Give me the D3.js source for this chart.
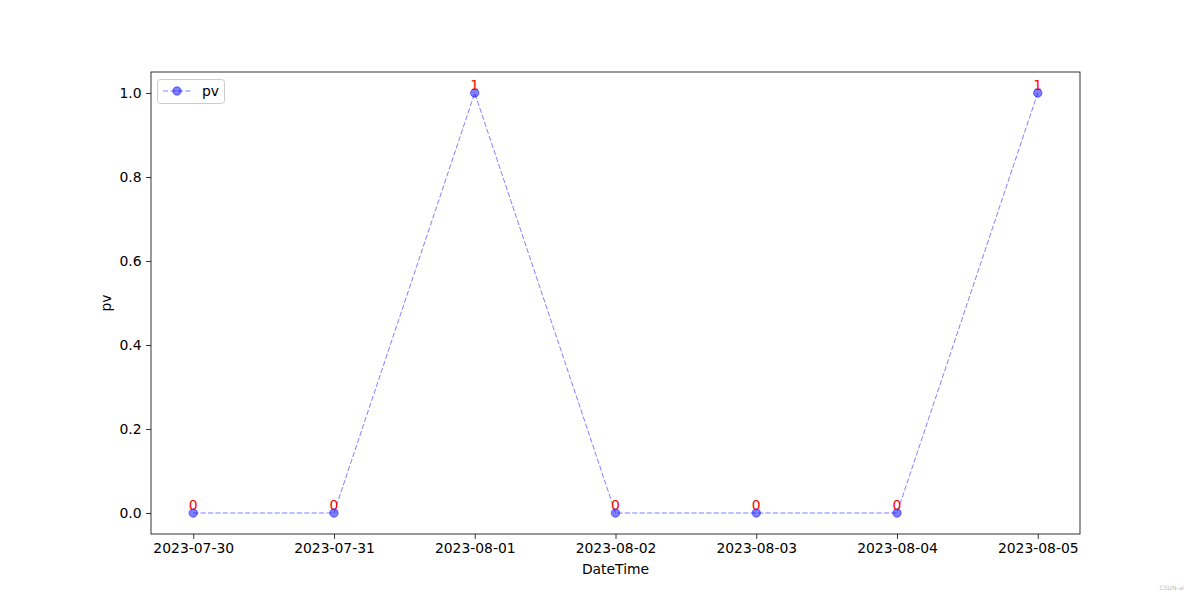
<!DOCTYPE html>
<html><head><meta charset="utf-8">
<script src="https://cdn.jsdelivr.net/npm/d3@7"></script>
<style>body{margin:0;background:#fff;} svg{display:block;font-family:"DejaVu Sans",sans-serif;}</style>
</head><body>
<svg id="chart" width="1200" height="600"></svg>
<script>
const dates = ["2023-07-30","2023-07-31","2023-08-01","2023-08-02","2023-08-03","2023-08-04","2023-08-05"];
const pv = [0,0,1,0,0,0,1];
const yTicks = [0,0.2,0.4,0.6,0.8,1.0];
const seriesName = "pv";

const svg = d3.select("#chart");
const L=151,R=1080,T=72,B=534;
const parse = d3.utcParse("%Y-%m-%d");
const ds = dates.map(parse);
const day = 86400000;
const x = d3.scaleUtc().domain([new Date(+ds[0]-0.3*day), new Date(+ds[ds.length-1]+0.3*day)]).range([L,R]);
const y = d3.scaleLinear().domain([-0.05,1.05]).range([B,T]);

// axes
const xa = svg.append("g").attr("transform",`translate(0,${B})`)
  .call(d3.axisBottom(x).tickValues(ds).tickFormat(d3.utcFormat("%Y-%m-%d")).tickSize(4.9).tickPadding(4.5));
const ya = svg.append("g").attr("transform",`translate(${L},0)`)
  .call(d3.axisLeft(y).tickValues(yTicks).tickFormat(d3.format(".1f")).tickSize(4.9).tickPadding(4.5));
[xa,ya].forEach(a=>{
  a.selectAll("text").attr("font-size","13.9px").attr("fill","#000").attr("font-family","DejaVu Sans");
  a.selectAll("line").attr("stroke","#000").attr("stroke-width",0.8);
  a.select(".domain").remove();
});
svg.append("rect").attr("x",L).attr("y",T).attr("width",R-L).attr("height",B-T)
  .attr("fill","none").attr("stroke","#000").attr("stroke-width",0.8);

// line
const line = d3.line().x((d,i)=>x(ds[i])).y(d=>y(d));
svg.append("path").datum(pv).attr("d",line).attr("fill","none")
  .attr("stroke","blue").attr("stroke-opacity",0.5).attr("stroke-width",1.0).attr("stroke-dasharray","5.2,2.2");
svg.selectAll("circle.pt").data(pv).enter().append("circle").attr("class","pt")
  .attr("cx",(d,i)=>x(ds[i])).attr("cy",d=>y(d)).attr("r",4.2)
  .attr("fill","blue").attr("fill-opacity",0.5).attr("stroke","blue").attr("stroke-opacity",0.5).attr("stroke-width",1);
svg.selectAll("text.lbl").data(pv).enter().append("text").attr("class","lbl")
  .attr("x",(d,i)=>x(ds[i])).attr("y",d=>y(d)-3).attr("text-anchor","middle")
  .attr("font-size","13.9px").attr("fill","red").text(d=>d);

// labels
svg.append("text").attr("x",(L+R)/2).attr("y",574).attr("text-anchor","middle").attr("font-size","13.9px").text("DateTime");
svg.append("text").attr("transform","translate(111,303) rotate(-90)").attr("text-anchor","middle").attr("font-size","13.9px").text("pv");

// legend
const lg = svg.append("g");
lg.append("rect").attr("x",157.5).attr("y",79.5).attr("width",67).attr("height",24).attr("rx",3)
  .attr("fill","#fff").attr("fill-opacity",0.8).attr("stroke","#ccc").attr("stroke-width",1);
lg.append("line").attr("x1",163).attr("x2",191).attr("y1",91).attr("y2",91)
  .attr("stroke","blue").attr("stroke-opacity",0.5).attr("stroke-dasharray","5.2,2.2");
lg.append("circle").attr("cx",177).attr("cy",91).attr("r",4.2).attr("fill","blue").attr("fill-opacity",0.5)
  .attr("stroke","blue").attr("stroke-opacity",0.5);
lg.append("text").attr("x",202).attr("y",96).attr("font-size","13.9px").text(seriesName);

// watermark
svg.append("text").attr("x",1184).attr("y",590).attr("text-anchor","end").attr("font-size","6px").attr("fill","#bbb").text("CSDN-ai");
</script>
</body></html>
